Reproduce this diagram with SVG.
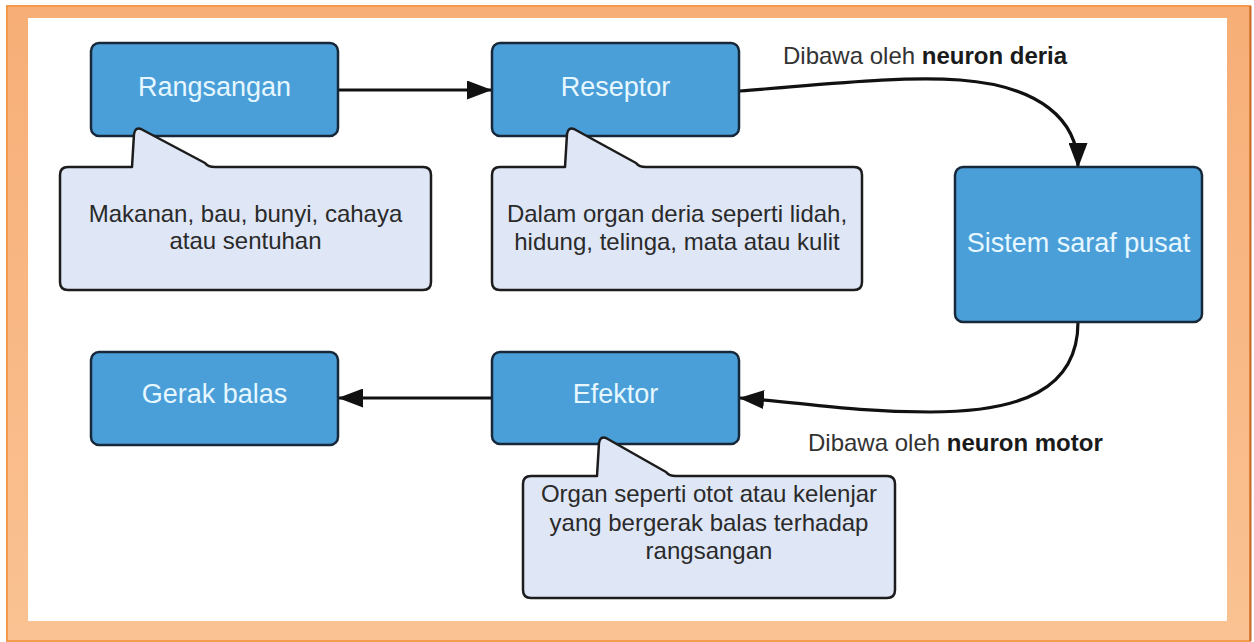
<svg xmlns="http://www.w3.org/2000/svg" width="1254" height="642" viewBox="0 0 1254 642">
  <defs>
    <linearGradient id="frameGrad" x1="0" y1="0" x2="0" y2="1">
      <stop offset="0" stop-color="#f7ae77"/>
      <stop offset="1" stop-color="#fac292"/>
    </linearGradient>
    <marker id="arrow" viewBox="0 0 25 19" refX="24" refY="9.5" markerWidth="25" markerHeight="19" markerUnits="userSpaceOnUse" orient="auto">
      <path d="M0,0 L25,9.5 L0,19 Z" fill="#111"/>
    </marker>
  </defs>
  <style>
    .node { fill: #4a9fd9; stroke: #17283a; stroke-width: 2.5; }
    .ntext { font-family: "Liberation Sans", Arial, sans-serif; font-size: 27px; fill: #e6f7ff; text-anchor: middle; }
    .callout { fill: #dfe6f6; stroke: #1c1c1c; stroke-width: 2.5; stroke-linejoin: round; }
    .ctext { font-family: "Liberation Sans", Arial, sans-serif; font-size: 24px; fill: #2a2a2a; text-anchor: middle; }
    .label { font-family: "Liberation Sans", Arial, sans-serif; font-size: 24px; fill: #333; }
    .label tspan.b { font-weight: bold; fill: #1a1a1a; }
    .conn { fill: none; stroke: #111; stroke-width: 3.2; marker-end: url(#arrow); }
  </style>

  <!-- frame -->
  <rect x="7" y="6" width="1243" height="635" fill="url(#frameGrad)" stroke="#f39a4c" stroke-width="2"/>
  <line x1="1250.5" y1="6" x2="1250.5" y2="641" stroke="#c86a28" stroke-width="2"/>
  <rect x="28" y="18" width="1199" height="603" fill="#ffffff"/>

  <!-- connectors -->
  <g id="connectors">
    <path class="conn" d="M339,90 H491"/>
    <path class="conn" d="M740,91 C830,84 900,76 960,80 C1040,86 1078,120 1078,167"/>
    <path class="conn" d="M1078,322 C1078,390 1020,412 930,412 C850,412 800,402 740,398"/>
    <path class="conn" d="M492,398 H339"/>
  </g>

  <g id="rangsangan">
    <rect class="node" x="91" y="43" width="247" height="93" rx="8"/>
    <text class="ntext" x="214.5" y="95.5">Rangsangan</text>
  </g>
  <g id="reseptor">
    <rect class="node" x="492" y="43" width="247" height="93" rx="8"/>
    <text class="ntext" x="615.5" y="95.5">Reseptor</text>
  </g>
  <g id="sistem-saraf-pusat">
    <rect class="node" x="955" y="167" width="247" height="155" rx="8"/>
    <text class="ntext" x="1078.5" y="252">Sistem saraf pusat</text>
  </g>
  <g id="efektor">
    <rect class="node" x="492" y="352" width="247" height="92" rx="8"/>
    <text class="ntext" x="615.5" y="403">Efektor</text>
  </g>
  <g id="gerak-balas">
    <rect class="node" x="91" y="352" width="247" height="93" rx="8"/>
    <text class="ntext" x="214.5" y="403">Gerak balas</text>
  </g>

  <g id="callout-rangsangan">
    <path class="callout" d="M68,167 H132 L134,134 Q135,127 141,129 L205,163 Q208,167 215,167 H423 Q431,167 431,175 V282 Q431,290 423,290 H68 Q60,290 60,282 V175 Q60,167 68,167 Z"/>
    <text class="ctext" x="245.5" y="222">Makanan, bau, bunyi, cahaya</text>
    <text class="ctext" x="245.5" y="249">atau sentuhan</text>
  </g>
  <g id="callout-reseptor">
    <path class="callout" d="M500,167 H565 L567,134 Q568,127 574,129 L636,163 Q639,167 646,167 H854 Q862,167 862,175 V282 Q862,290 854,290 H500 Q492,290 492,282 V175 Q492,167 500,167 Z"/>
    <text class="ctext" x="677" y="222">Dalam organ deria seperti lidah,</text>
    <text class="ctext" x="677" y="250">hidung, telinga, mata atau kulit</text>
  </g>
  <g id="callout-efektor">
    <path class="callout" d="M531,476 H597 L599,443 Q600,436 606,438 L666,472 Q669,476 676,476 H887 Q895,476 895,484 V590 Q895,598 887,598 H531 Q523,598 523,590 V484 Q523,476 531,476 Z"/>
    <text class="ctext" x="709" y="502">Organ seperti otot atau kelenjar</text>
    <text class="ctext" x="709" y="531">yang bergerak balas terhadap</text>
    <text class="ctext" x="709" y="559">rangsangan</text>
  </g>

  <g id="label-deria">
    <text class="label" x="783" y="64">Dibawa oleh <tspan class="b">neuron deria</tspan></text>
  </g>
  <g id="label-motor">
    <text class="label" x="808" y="451">Dibawa oleh <tspan class="b">neuron motor</tspan></text>
  </g>
</svg>
